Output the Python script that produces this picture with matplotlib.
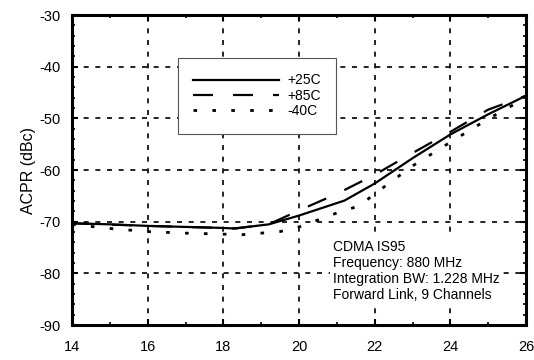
import matplotlib
matplotlib.use("Agg")
import matplotlib.pyplot as plt
from matplotlib.ticker import MultipleLocator

plt.rcParams['font.family'] = ['Liberation Sans', 'DejaVu Sans']
plt.rcParams['axes.unicode_minus'] = False

# Output power (dBm) vs ACPR (dBc)
x_25 = [14, 15, 16, 17, 18, 18.3, 19.2, 20, 21.2, 22, 23, 24, 25, 26]
acpr_25 = [-70.3, -70.5, -70.8, -71.0, -71.2, -71.3, -70.5, -68.8, -65.9, -62.6, -57.7, -53.1, -49.2, -45.6]

x_85 = [14, 16, 18, 18.3, 19.2, 20, 21, 22, 23, 24, 25, 26]
acpr_85 = [-70.3, -70.8, -71.2, -71.3, -70.5, -67.8, -64.6, -60.9, -56.7, -52.6, -48.3, -45.6]

x_m40 = [14, 15, 16, 17, 18, 18.5, 19, 19.5, 20, 21, 21.6, 22, 23, 24, 25, 26]
acpr_m40 = [-70.5, -71.3, -71.9, -72.2, -72.4, -72.5, -72.2, -71.9, -71.0, -68.3, -66.9, -64.6, -59.2, -54.6, -50.1, -46.0]

note = "CDMA IS95\nFrequency: 880 MHz\nIntegration BW: 1.228 MHz\nForward Link, 9 Channels"

fig = plt.figure(figsize=(5.34, 3.6), dpi=100)
ax = fig.add_axes([0.135, 0.097, 0.85, 0.861])

ax.plot(x_25, acpr_25, color='black', lw=1.6, label='+25C')
ax.plot(x_85, acpr_85, color='black', lw=1.6, dashes=(9, 9), label='+85C')
ax.plot(x_m40, acpr_m40, color='black', lw=2.0, dashes=(1.3, 5.5), label='-40C')

ax.set_xlim(14, 26)
ax.set_ylim(-90, -30)
ax.xaxis.set_major_locator(MultipleLocator(2))
ax.xaxis.set_minor_locator(MultipleLocator(1))
ax.yaxis.set_major_locator(MultipleLocator(10))
ax.yaxis.set_minor_locator(MultipleLocator(2))
ax.tick_params(which='both', direction='in', top=True, right=True, labelsize=10.5)
ax.tick_params(which='major', length=4, width=1.5)
ax.tick_params(which='minor', length=2.5, width=1.2)
ax.tick_params(axis='x', pad=11)
ax.tick_params(axis='y', pad=8)
for s in ax.spines.values():
    s.set_linewidth(2.2)

ax.grid(True, which='major', color='black', lw=1.2, linestyle=(0, (3, 4)))
ax.set_ylabel("ACPR (dBc)", fontsize=11.5, labelpad=3)

leg = ax.legend(loc='upper left', bbox_to_anchor=(0.233, 0.861), fontsize=10,
                handlelength=6.2, borderpad=1.1, labelspacing=0.1,
                handletextpad=0.6, borderaxespad=0, fancybox=False, framealpha=1,
                edgecolor='#555555', alignment='right')
leg.get_frame().set_linewidth(0.8)
for t in leg.get_texts():
    t.set_ha('right')

ax.text(0.575, 0.275, note, transform=ax.transAxes, fontsize=10,
        va='top', ha='left', linespacing=1.2,
        bbox=dict(facecolor='white', edgecolor='none', pad=2))

fig.savefig("out.png", dpi=100)
